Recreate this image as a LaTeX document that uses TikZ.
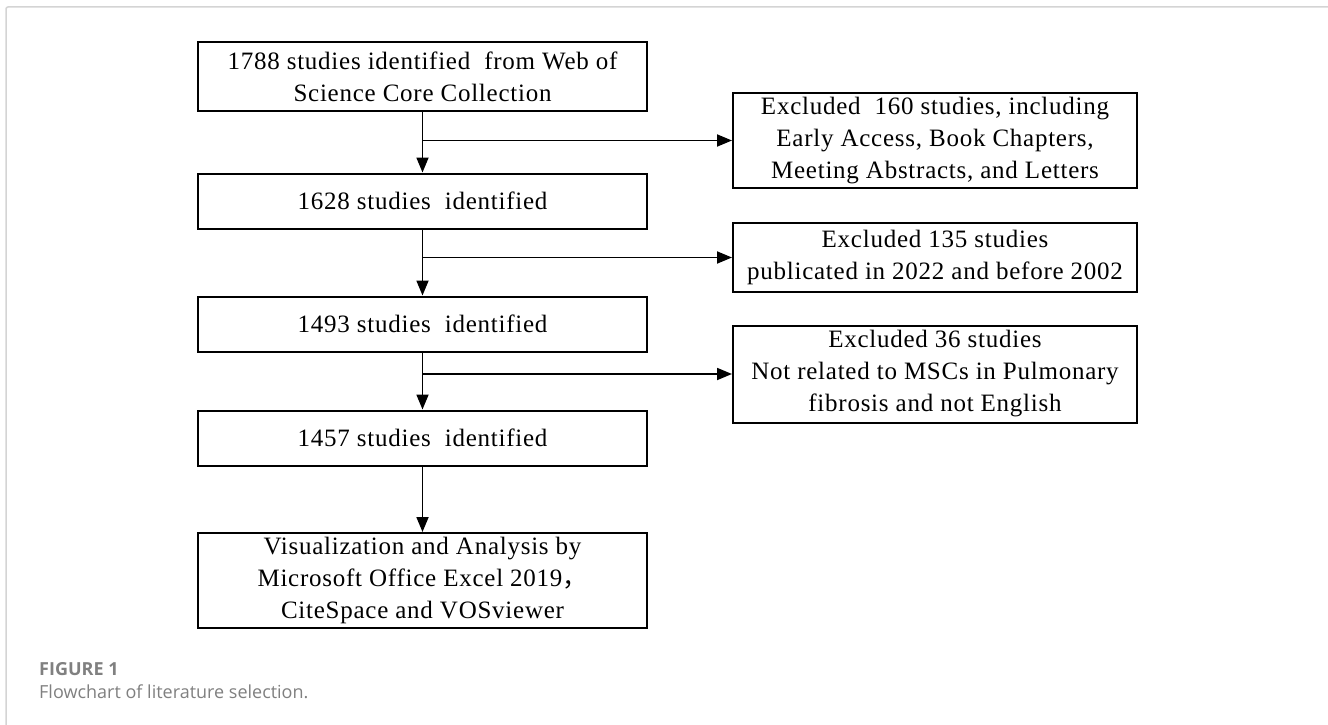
\documentclass[tikz,border=0pt]{standalone}
\usepackage{fontspec}
\usetikzlibrary{arrows.meta}
\newfontfamily\boxfont[LetterSpace=3]{Liberation Serif}
\newfontfamily\capfont{Open Sans}
\newfontfamily\cjkfont{Noto Sans CJK SC}
\definecolor{framegray}{RGB}{212,212,212}
\definecolor{capgray}{RGB}{128,128,128}
\tikzset{
  flowbox/.style={draw=black, line width=2pt, align=center, inner sep=0pt,
    font=\boxfont\fontsize{25}{32}\selectfont},
  leftbox/.style={flowbox, minimum width=449pt},
  rightbox/.style={flowbox, minimum width=404pt},
  flowarrow/.style={line width=1.8pt, -{Triangle[length=15pt,width=12pt]}},
  flowline/.style={line width=1.8pt}
}
\begin{document}
\begin{tikzpicture}[x=1pt,y=-1pt]
\useasboundingbox (0,0) rectangle (1328,725);
\fill[white] (0,0) rectangle (1328,725);
\draw[framegray, line width=1.5pt, rounded corners=2pt] (6,725) -- (6,7) -- (1328,7);

\node[leftbox, minimum height=69pt] (b1) at (422.5,76.5) {1788 studies identified\ \ from Web of\\Science Core Collection};
\node[leftbox, minimum height=55pt] (b2) at (422.5,201) {1628 studies\ \ identified};
\node[leftbox, minimum height=55pt] (b3) at (422.5,324) {1493 studies\ \ identified};
\node[leftbox, minimum height=55pt] (b4) at (422.5,438) {1457 studies\ \ identified};
\node[leftbox, minimum height=95pt] (b5) at (422.5,580.5) {Visualization and Analysis by\\Microsoft Office Excel 2019{\cjkfont ，}\\CiteSpace and VOSviewer};

\node[rightbox, minimum height=95pt] (e1) at (935,140.5) {Excluded\ \ 160 studies, including\\Early Access, Book Chapters,\\Meeting Abstracts, and Letters};
\node[rightbox, minimum height=69pt] (e2) at (935,257.5) {Excluded 135 studies\\publicated in 2022 and before 2002};
\node[rightbox, minimum height=97pt] (e3) at (935,374) {Excluded 36 studies\\Not related to MSCs in Pulmonary\\fibrosis and not English};

\draw[flowarrow] (b1.south) -- (b2.north);
\draw[flowarrow] (b2.south) -- (b3.north);
\draw[flowarrow] (b3.south) -- (b4.north);
\draw[flowarrow] (b4.south) -- (b5.north);

\draw[flowarrow] (b1.south |- e1.west) -- (e1.west);
\draw[flowarrow] (b2.south |- e2.west) -- (e2.west);
\draw[flowarrow] (b3.south |- e3.west) -- (e3.west);

\node[anchor=base west, inner sep=0pt, text=capgray, font=\capfont\bfseries\fontsize{18}{20}\selectfont] (figlabel) at (39,675) {FIGURE 1};
\node[anchor=base west, inner sep=0pt, text=capgray, font=\capfont\fontsize{18}{20}\selectfont] (figcaption) at (39,698) {Flowchart of literature selection.};
\end{tikzpicture}
\end{document}
